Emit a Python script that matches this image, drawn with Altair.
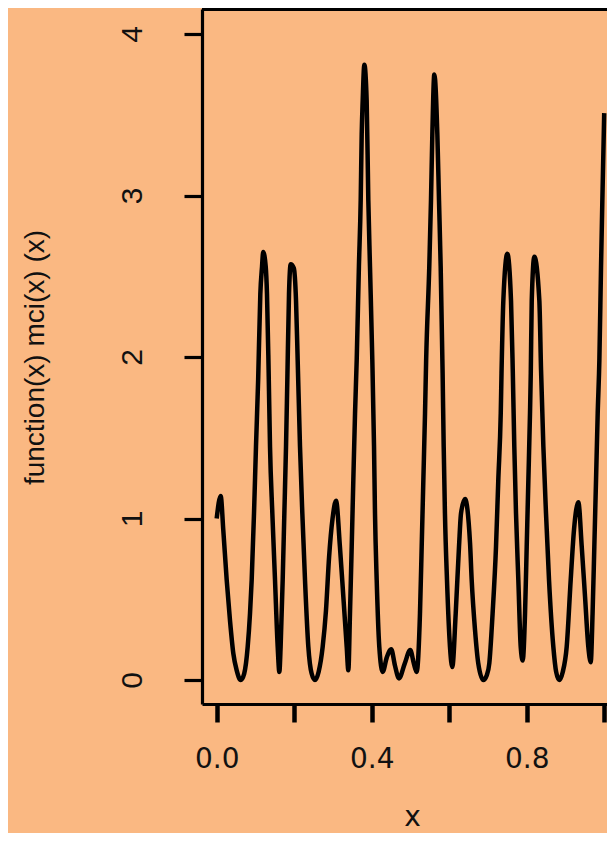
import altair as alt
import pandas as pd

# curve samples
x_vals = [
    0.000, 0.0103, 0.017, 0.0258, 0.0343, 0.0429, 0.0516, 0.062, 0.071, 0.080,
    0.086, 0.0903, 0.0963, 0.1014, 0.1070, 0.1126, 0.117, 0.120, 0.1265, 0.1298,
    0.134, 0.1376, 0.1436, 0.1505, 0.1574, 0.1617, 0.165, 0.1703, 0.1746, 0.1789,
    0.1823, 0.1866, 0.191, 0.199, 0.2047, 0.209, 0.215, 0.221, 0.2279, 0.2365,
    0.245, 0.2537, 0.263, 0.2735, 0.282, 0.290, 0.299, 0.308, 0.318, 0.3268,
    0.3355, 0.3397, 0.344, 0.3484, 0.3526, 0.357, 0.3613, 0.367, 0.3716, 0.3742,
    0.3768, 0.381, 0.387, 0.3913, 0.3956, 0.4016, 0.406, 0.4085, 0.4129, 0.4196,
    0.4284, 0.439, 0.4505, 0.460, 0.4705, 0.485, 0.4995, 0.509, 0.516, 0.5246,
    0.529, 0.5333, 0.5376, 0.5405, 0.5486, 0.553, 0.5565, 0.5616, 0.5694, 0.5737,
    0.578, 0.583, 0.5858, 0.589, 0.5943, 0.602, 0.608, 0.6168, 0.6253, 0.6305,
    0.6408, 0.6537, 0.658, 0.6666, 0.675, 0.688, 0.697, 0.7035, 0.712, 0.7208,
    0.7267, 0.733, 0.735, 0.7397, 0.750, 0.7595, 0.764, 0.768, 0.7724, 0.7784,
    0.7845, 0.7897, 0.7957, 0.800, 0.8043, 0.8085, 0.8105, 0.813, 0.8197, 0.8326,
    0.837, 0.843, 0.8498, 0.8576, 0.8687, 0.876, 0.8841, 0.893, 0.9032, 0.9135,
    0.922, 0.9333, 0.942, 0.9505, 0.959, 0.9652, 0.970, 0.9745, 0.9789, 0.9832,
    0.9875, 0.9918, 0.9952, 1.000,
]
y_vals = [
    1.00, 1.14, 0.93, 0.62, 0.37, 0.165, 0.06, 0.0, 0.04, 0.206,
    0.413, 0.619, 1.032, 1.445, 1.858, 2.39, 2.56, 2.65, 2.56, 2.39,
    1.92, 1.445, 1.032, 0.619, 0.206, 0.05, 0.206, 0.619, 1.032, 1.445,
    1.858, 2.39, 2.575, 2.55, 2.35, 1.98, 1.445, 1.032, 0.619, 0.206,
    0.04, 0.0, 0.05, 0.206, 0.43, 0.76, 1.0, 1.11, 0.826, 0.516,
    0.206, 0.06, 0.413, 0.826, 1.239, 1.651, 1.98, 2.56, 2.97, 3.38,
    3.59, 3.81, 3.59, 2.97, 2.56, 1.98, 1.445, 1.032, 0.619, 0.206,
    0.05, 0.14, 0.19, 0.09, 0.01, 0.10, 0.185, 0.10, 0.05, 0.413,
    0.826, 1.239, 1.651, 1.98, 2.56, 2.97, 3.38, 3.75, 3.38, 2.97,
    2.56, 1.90, 1.445, 1.032, 0.619, 0.206, 0.08, 0.413, 0.826, 1.032,
    1.12, 0.85, 0.62, 0.31, 0.103, 0.0, 0.03, 0.103, 0.413, 0.826,
    1.239, 1.651, 1.90, 2.35, 2.64, 2.35, 1.92, 1.445, 1.032, 0.619,
    0.206, 0.12, 0.413, 0.826, 1.239, 1.651, 1.90, 2.35, 2.62, 2.35,
    1.92, 1.445, 1.032, 0.619, 0.206, 0.05, 0.0, 0.05, 0.206, 0.619,
    0.929, 1.10, 0.826, 0.516, 0.206, 0.11, 0.413, 0.826, 1.239, 1.651,
    1.98, 2.56, 2.97, 3.51,
]
x_ticks = [0.0, 0.2, 0.4, 0.6, 0.8, 1.0]
y_ticks = [0, 1, 2, 3, 4]
x_title = "x"
y_title = "function(x) mci(x) (x)"

df = pd.DataFrame({"x": x_vals, "y": y_vals})

BG = "#FAB882"
W = 405
H = 695

x_axis = alt.Axis(
    values=x_ticks,
    labelExpr="(round(datum.value*10) % 4 == 0 && datum.value < 0.9) ? format(datum.value, '.1f') : ''",
    labelFont="DejaVu Sans", labelFontSize=28, labelColor="#111111",
    labelPadding=23, labelFlush=False, labelOverlap=False,
    tickSize=18, tickWidth=4.5, tickColor="black",
    domainColor="black", domainWidth=3.2,
    grid=False,
    title=x_title, titleFont="DejaVu Sans", titleFontSize=28,
    titleFontWeight="normal", titleColor="#111111",
    titleX=210, titleY=113, titleAlign="center", titleBaseline="middle",
)
y_axis = alt.Axis(
    values=y_ticks,
    format="d",
    labelAngle=270, labelAlign="center", labelBaseline="middle",
    labelFont="Liberation Sans", labelFontSize=30, labelColor="#111111",
    labelPadding=52, labelOverlap=False,
    tickSize=18, tickWidth=3.2, tickColor="black",
    domainColor="black", domainWidth=3.2,
    grid=False,
    title=y_title, titleFont="Liberation Sans", titleFontSize=28,
    titleFontWeight="normal", titleColor="#111111",
    titleAngle=270, titleX=-167, titleY=348,
    titleAlign="center", titleBaseline="middle",
)

line = alt.Chart(df).mark_line(
    color="black", strokeWidth=4.5, interpolate="monotone"
).encode(
    x=alt.X("x:Q", scale=alt.Scale(domain=[-0.0379, 1.0072], nice=False, zero=False), axis=x_axis),
    y=alt.Y("y:Q", scale=alt.Scale(domain=[-0.1486, 4.1548], nice=False, zero=False), axis=y_axis),
)

top_rule = alt.Chart(df).mark_rule(color="black", strokeWidth=3.2).encode(
    x=alt.value(0), x2=alt.value(W), y=alt.value(0)
)

chart = alt.layer(line, top_rule).properties(
    width=W, height=H,
    autosize=alt.AutoSizeParams(type="none"),
    padding={"left": 194, "top": 1, "right": 0, "bottom": 129},
    background=BG,
).configure_view(stroke=None)

chart.save("out.html", embed_options={"renderer": "svg", "actions": False})
